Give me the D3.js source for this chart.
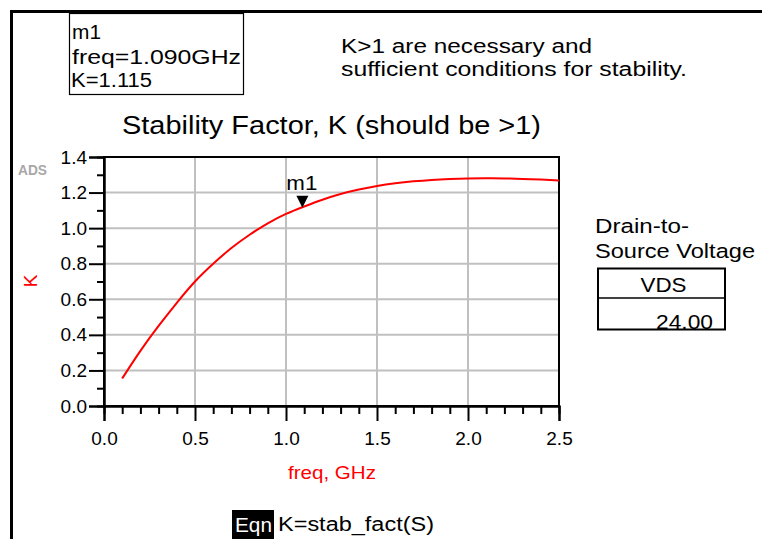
<!DOCTYPE html>
<html>
<head>
<meta charset="utf-8">
<script src="https://cdn.jsdelivr.net/npm/d3@7"></script>
<style>
  html, body { margin: 0; padding: 0; background: #fff; }
  svg { display: block; font-family: "Liberation Sans", Arial, sans-serif; }
</style>
</head>
<body>
<svg id="chart" width="762" height="539"></svg>
<script>
// Stability factor K of the device versus frequency
const freqGHz = [0.1, 0.2, 0.3, 0.4, 0.5, 0.6, 0.7, 0.8, 0.9, 1.0, 1.1, 1.2, 1.3,
                 1.4, 1.5, 1.6, 1.7, 1.8, 1.9, 2.0, 2.1, 2.2, 2.3, 2.4, 2.5];
const kValues = [0.155, 0.31, 0.45, 0.58, 0.70, 0.80, 0.888, 0.963, 1.027, 1.08, 1.122, 1.16, 1.192,
                 1.217, 1.237, 1.252, 1.263, 1.271, 1.276, 1.279, 1.28, 1.279, 1.277, 1.273, 1.268];

// Axis ticks
const xMajorTicks = [0.0, 0.5, 1.0, 1.5, 2.0, 2.5];
const xMinorTicks = [0.1, 0.2, 0.3, 0.4, 0.6, 0.7, 0.8, 0.9, 1.1, 1.2, 1.3, 1.4,
                     1.6, 1.7, 1.8, 1.9, 2.1, 2.2, 2.3, 2.4];
const yMajorTicks = [0.0, 0.2, 0.4, 0.6, 0.8, 1.0, 1.2, 1.4];
const yMinorTicks = [0.1, 0.3, 0.5, 0.7, 0.9, 1.1, 1.3];

// Marker m1
const markerName = "m1";
const markerFreq = 1.090;
const markerK = 1.115;

// Variable table
const varName = "VDS";
const varValue = 24.00;

const svg = d3.select("#chart");

// helper for text that is stretched to a given width
function label(parent, str, x, y, size, width, opts = {}) {
  const t = parent.append("text")
    .attr("x", x).attr("y", y)
    .attr("font-size", size)
    .attr("fill", opts.fill || "#000")
    .attr("text-anchor", opts.anchor || "start")
    .text(str);
  if (width) t.attr("textLength", width).attr("lengthAdjust", "spacingAndGlyphs");
  if (opts.weight) t.attr("font-weight", opts.weight);
  return t;
}

// page frame (left and top rule)
svg.append("path")
  .attr("d", "M11.5,539 V11.5 H762")
  .attr("fill", "none").attr("stroke", "#000").attr("stroke-width", 3);

// marker readout box
svg.append("rect")
  .attr("x", 69.5).attr("y", 13.5).attr("width", 174).attr("height", 81)
  .attr("fill", "none").attr("stroke", "#000").attr("stroke-width", 1.2);
label(svg, markerName, 72, 38.5, 20, 29);
label(svg, `freq=${markerFreq.toFixed(3)}GHz`, 72, 64, 20, 169);
label(svg, `K=${markerK.toFixed(3)}`, 71, 87, 20, 81);

// note text
label(svg, "K>1 are necessary and", 341, 52.5, 19.5, 251);
label(svg, "sufficient conditions for stability.", 341, 76, 19.5, 346);

// title
label(svg, "Stability Factor, K (should be >1)", 122, 134, 25, 419);

// plot area
const plotL = 104, plotR = 559, plotT = 157, plotB = 406;
const x = d3.scaleLinear().domain([0, 2.5]).range([plotL, plotR]);
const y = d3.scaleLinear().domain([0, 1.4]).range([plotB, plotT]);

const g = svg.append("g");

// grid
g.append("g")
  .selectAll("line")
  .data(xMajorTicks.slice(1, -1))
  .join("line")
  .attr("x1", d => x(d)).attr("x2", d => x(d))
  .attr("y1", plotT).attr("y2", plotB)
  .attr("stroke", "#c0c0c0").attr("stroke-width", 2);
g.append("g")
  .selectAll("line")
  .data(yMajorTicks.slice(1, -1))
  .join("line")
  .attr("x1", plotL).attr("x2", plotR)
  .attr("y1", d => y(d)).attr("y2", d => y(d))
  .attr("stroke", "#c0c0c0").attr("stroke-width", 2);

// plot border
g.append("rect")
  .attr("x", plotL).attr("y", plotT).attr("width", plotR - plotL).attr("height", plotB - plotT)
  .attr("fill", "none").attr("stroke", "#000").attr("stroke-width", 2);

// axes
const fmt = d3.format(".1f");
const yAxis = g.append("g").attr("transform", `translate(${plotL},0)`)
  .call(d3.axisLeft(y).tickValues(yMajorTicks).tickSize(15).tickPadding(2).tickFormat(fmt));
const yMinor = g.append("g").attr("transform", `translate(${plotL},0)`)
  .call(d3.axisLeft(y).tickValues(yMinorTicks).tickSize(7).tickFormat(""));
const xAxis = g.append("g").attr("transform", `translate(0,${plotB})`)
  .call(d3.axisBottom(x).tickValues(xMajorTicks).tickSize(15).tickPadding(11).tickFormat(fmt));
const xMinor = g.append("g").attr("transform", `translate(0,${plotB})`)
  .call(d3.axisBottom(x).tickValues(xMinorTicks).tickSize(8).tickFormat(""));

[yAxis, yMinor, xAxis, xMinor].forEach(a => {
  a.select(".domain").attr("stroke", "#000").attr("stroke-width", 2);
  a.selectAll(".tick line").attr("stroke", "#000").attr("stroke-width", 2);
  a.selectAll(".tick text")
    .attr("font-family", "'Liberation Sans', Arial, sans-serif")
    .attr("font-size", 19).attr("fill", "#000");
});

// ADS logo
label(svg, "ADS", 18, 175, 14, 29, { fill: "#ffffff", weight: "bold" }).attr("transform", "translate(1,1)");
label(svg, "ADS", 18, 175, 14, 29, { fill: "#a8a8a8", weight: "bold" });

// axis titles
label(svg, "K", 0, 0, 19, null, { fill: "#ff0000", anchor: "middle" })
  .attr("transform", "translate(37,281) rotate(-90)");
label(svg, "freq, GHz", 332, 479, 19, 88, { fill: "#ff0000", anchor: "middle" });

// curve
const line = d3.line()
  .x((d, i) => x(freqGHz[i]))
  .y(d => y(d))
  .curve(d3.curveNatural);
g.append("path")
  .datum(kValues)
  .attr("d", line)
  .attr("fill", "none").attr("stroke", "#ff0000").attr("stroke-width", 2);

// marker triangle and name
const mx = x(markerFreq), my = y(markerK);
g.append("path")
  .attr("d", `M${mx},${my} L${mx - 6},${my - 12} L${mx + 6},${my - 12} Z`)
  .attr("fill", "#000");
label(svg, markerName, mx - 16, my - 18, 20, 31);

// variable panel
label(svg, "Drain-to-", 595, 233, 20.5, 94);
label(svg, "Source Voltage", 595, 258, 20.5, 160);
svg.append("rect")
  .attr("x", 598).attr("y", 268.5).attr("width", 127).attr("height", 61)
  .attr("fill", "none").attr("stroke", "#000").attr("stroke-width", 2);
svg.append("line")
  .attr("x1", 598).attr("x2", 725).attr("y1", 298).attr("y2", 298)
  .attr("stroke", "#000").attr("stroke-width", 1.5);
label(svg, varName, 663.5, 292, 20, 46, { anchor: "middle" });
label(svg, varValue.toFixed(2), 713, 329, 20, 57, { anchor: "end" });

// equation
svg.append("rect")
  .attr("x", 232).attr("y", 510).attr("width", 42).attr("height", 29)
  .attr("fill", "#000");
label(svg, "Eqn", 235, 532, 20, 37, { fill: "#fff" });
label(svg, "K=stab_fact(S)", 278, 531, 20, 156);
</script>
</body>
</html>
